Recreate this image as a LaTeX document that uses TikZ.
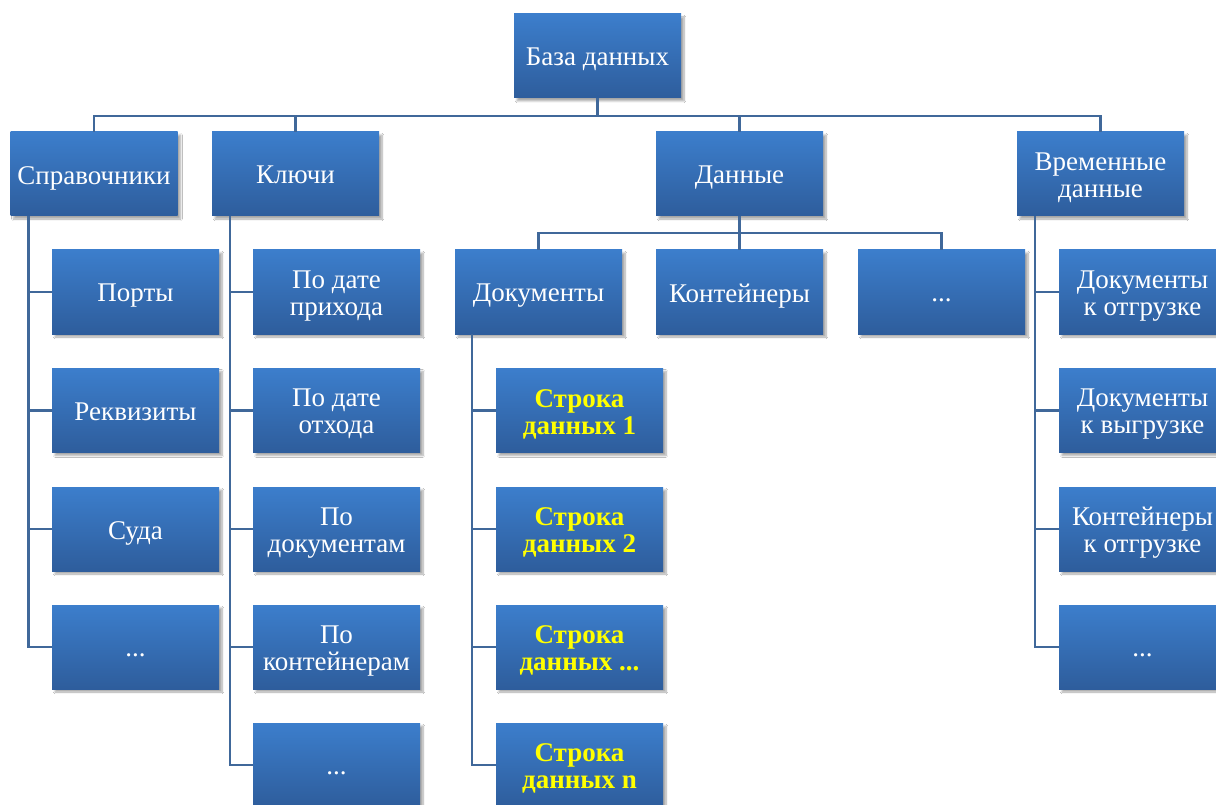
\documentclass[tikz,border=0pt]{standalone}
\usepackage{fontspec}
\setmainfont{Liberation Serif}
\usetikzlibrary{calc,shadows.blur}
\definecolor{boxtop}{HTML}{3C7ECC}
\definecolor{boxbot}{HTML}{2E5D9C}
\definecolor{linkblue}{HTML}{40689A}
\definecolor{hilite}{HTML}{FFFF00}
\tikzset{
  unit/.style={
    rectangle, minimum width=167pt, minimum height=84pt, inner sep=0pt,
    top color=boxtop, bottom color=boxbot, draw=none,
    blur shadow={shadow xshift=3pt, shadow yshift=-3pt, shadow blur steps=8, shadow opacity=35}
  },
  caption/.style={inner sep=0pt, text=white, align=center,
    font=\fontsize{27}{27}\selectfont},
  rowcaption/.style={caption, text=hilite, font=\fontsize{27}{27}\selectfont\bfseries},
  link/.style={draw=linkblue, line width=2.6pt}
}
% a box with its caption set slightly below the centre;
% the phantoms give every caption the same cap height and descender
\newcommand\unitbox[4][caption]{%
  \node[unit] (#2) at (#3) {};
  \node[#1] (#2-t) at ($(#2)+(0,4)$) {\vphantom{Бу}#4\vphantom{Бу}};
}
\begin{document}
\begin{tikzpicture}[x=1pt,y=-1pt]
\useasboundingbox (0,0) rectangle (1216,805);
\fill[white] (0,0) rectangle (1216,805);

% top level
\unitbox{root}{597.5,56}{База данных}

% first level
\unitbox{ref}{94,174}{Справочники}
\unitbox{keys}{295.5,174}{Ключи}
\unitbox{data}{739.5,174}{Данные}
\unitbox{tmp}{1100.5,174}{Временные\\данные}

% reference books
\unitbox{ref1}{135.5,292}{Порты}
\unitbox{ref2}{135.5,410.5}{Реквизиты}
\unitbox{ref3}{135.5,529}{Суда}
\unitbox{ref4}{135.5,647}{...}

% keys
\unitbox{key1}{336.5,292}{По дате\\прихода}
\unitbox{key2}{336.5,410.5}{По дате\\отхода}
\unitbox{key3}{336.5,529}{По\\документам}
\unitbox{key4}{336.5,647}{По\\контейнерам}
\unitbox{key5}{336.5,765}{...}

% data
\unitbox{doc}{538.5,292}{Документы}
\unitbox{cont}{739.5,292}{Контейнеры}
\unitbox{dmore}{941.5,292}{...}

% document rows
\unitbox[rowcaption]{row1}{579.5,410.5}{Строка\\данных 1}
\unitbox[rowcaption]{row2}{579.5,529}{Строка\\данных 2}
\unitbox[rowcaption]{row3}{579.5,647}{Строка\\данных ...}
\unitbox[rowcaption]{row4}{579.5,765}{Строка\\данных n}

% temporary data
\unitbox{tmp1}{1142.5,292}{Документы\\к отгрузке}
\unitbox{tmp2}{1142.5,410.5}{Документы\\к выгрузке}
\unitbox{tmp3}{1142.5,529}{Контейнеры\\к отгрузке}
\unitbox{tmp4}{1142.5,647}{...}

% tree connectors from the root
\foreach \c in {ref,keys,data,tmp}
  \draw[link] (root.south) -- ++(0,18) -| (\c.north);

% data connectors
\foreach \c in {doc,cont,dmore}
  \draw[link] (data.south) -- ++(0,17) -| (\c.north);

% side branches
\foreach \c in {ref1,ref2,ref3,ref4}
  \draw[link] ($(ref.south west)+(18,0)$) |- (\c.west);
\foreach \c in {key1,key2,key3,key4,key5}
  \draw[link] ($(keys.south west)+(18,0)$) |- (\c.west);
\foreach \c in {row1,row2,row3,row4}
  \draw[link] ($(doc.south west)+(17,0)$) |- (\c.west);
\foreach \c in {tmp1,tmp2,tmp3,tmp4}
  \draw[link] ($(tmp.south west)+(18,0)$) |- (\c.west);
\end{tikzpicture}
\end{document}
